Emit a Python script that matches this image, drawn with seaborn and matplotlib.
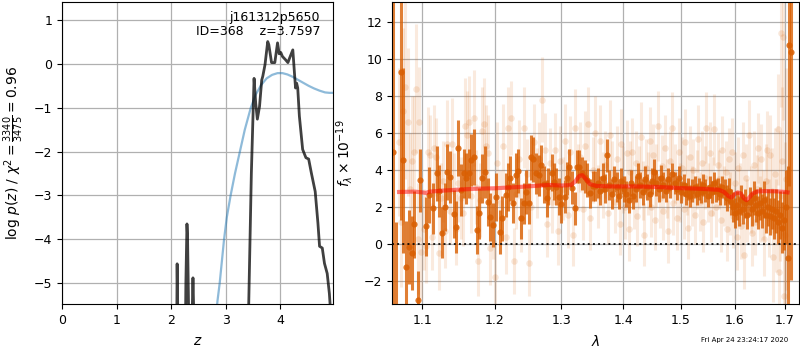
import numpy as np
import pandas as pd
import matplotlib
matplotlib.use("Agg")
import matplotlib.pyplot as plt
import matplotlib.ticker as mticker
import seaborn as sns

# ---------------- left panel: p(z) ----------------
pz_z = [2.08, 2.10, 2.11, 2.13, 2.15, 2.24, 2.27, 2.29, 2.30, 2.32, 2.35,
        2.38, 2.40, 2.42, 2.45, 3.40, 3.42, 3.47, 3.52, 3.55, 3.58, 3.62,
        3.66, 3.68, 3.72, 3.77, 3.79, 3.84, 3.90, 3.95, 3.98, 4.01, 4.04,
        4.07, 4.10, 4.14, 4.17, 4.23, 4.26, 4.28, 4.30, 4.32, 4.35, 4.41,
        4.47, 4.52, 4.57, 4.64, 4.69, 4.72, 4.77, 4.81, 4.86, 4.90, 4.93]
pz_logp = [-9.0, -6.5, -4.56, -6.5, -9.0, -9.0, -5.0, -3.65, -3.9, -5.6, -8.0,
           -6.0, -4.88, -6.0, -9.0, -9.0, -5.6, -2.5, -0.33, -0.9, -1.26, -0.97,
           -0.37, -0.28, -0.02, 0.51, 0.44, 0.03, 0.03, 0.48, 0.23, 0.26, 0.17,
           0.13, 0.09, 0.03, 0.13, 0.32, -0.21, -0.55, -0.44, -0.55, -1.19, -1.95,
           -2.14, -2.17, -2.49, -2.91, -3.63, -4.16, -4.20, -4.55, -4.78, -5.24, -5.8]

prior_z = [2.80, 2.85, 2.89, 2.93, 2.97, 3.02, 3.09, 3.17, 3.26, 3.35, 3.46,
           3.55, 3.65, 3.75, 3.85, 3.95, 4.04, 4.13, 4.22, 4.32, 4.42, 4.52,
           4.62, 4.72, 4.82, 4.90, 4.97]
prior_logp = [-6.0, -5.4, -5.0, -4.5, -4.0, -3.5, -3.0, -2.5, -2.0, -1.5, -1.0,
              -0.7, -0.48, -0.33, -0.25, -0.21, -0.21, -0.24, -0.29, -0.36, -0.43, -0.5,
              -0.56, -0.61, -0.65, -0.66, -0.66]

left_xticks = [0, 1, 2, 3, 4]
left_yticks = [-5, -4, -3, -2, -1, 0, 1]

# ---------------- right panel: spectrum ----------------
faint_wave = [
    1.070, 1.072, 1.075, 1.078, 1.081, 1.084, 1.087, 1.090, 1.092, 1.094,
    1.096, 1.099, 1.102, 1.105, 1.108, 1.111, 1.113, 1.116, 1.119, 1.122,
    1.125, 1.128, 1.131, 1.134, 1.137, 1.140, 1.143, 1.146, 1.149, 1.152,
    1.155, 1.158, 1.161, 1.164, 1.167, 1.170, 1.173, 1.176, 1.179, 1.182,
    1.185, 1.188, 1.191, 1.194, 1.197, 1.200, 1.204, 1.208, 1.212, 1.216,
    1.220, 1.224, 1.228, 1.231, 1.235, 1.239, 1.243, 1.247, 1.250, 1.254,
    1.258, 1.262, 1.266, 1.270, 1.274, 1.278, 1.282, 1.286, 1.290, 1.294,
    1.298, 1.302, 1.306, 1.310, 1.314, 1.318, 1.322, 1.326, 1.330, 1.334,
    1.338, 1.342, 1.346, 1.350, 1.354, 1.358, 1.362, 1.366, 1.370, 1.374,
    1.378, 1.382, 1.386, 1.390, 1.394, 1.397, 1.400, 1.403, 1.406, 1.409,
    1.412, 1.415, 1.418, 1.421, 1.424, 1.427, 1.430, 1.433, 1.436, 1.439,
    1.442, 1.445, 1.448, 1.451, 1.454, 1.457, 1.460, 1.463, 1.466, 1.469,
    1.472, 1.475, 1.478, 1.481, 1.484, 1.487, 1.490, 1.493, 1.496, 1.499,
    1.502, 1.505, 1.508, 1.511, 1.514, 1.517, 1.520, 1.523, 1.526, 1.529,
    1.532, 1.535, 1.538, 1.541, 1.544, 1.547, 1.550, 1.553, 1.556, 1.559,
    1.562, 1.565, 1.568, 1.571, 1.574, 1.577, 1.580, 1.583, 1.586, 1.589,
    1.592, 1.595, 1.598, 1.601, 1.604, 1.607, 1.610, 1.613, 1.616, 1.619,
    1.622, 1.625, 1.628, 1.631, 1.634, 1.637, 1.640, 1.643, 1.646, 1.649,
    1.652, 1.655, 1.658, 1.661, 1.664, 1.667, 1.670, 1.673, 1.676, 1.679,
    1.682, 1.685, 1.688, 1.690, 1.692, 1.694, 1.696, 1.698, 1.700, 1.702]
faint_flux = [
    5.5, 1.2, 7.2, 8.5, 6.6, 3.0, 4.5, 5.0, 8.4, 0.3,
    6.6, -0.4, 0.8, -0.1, 5.0, 4.8, 0.4, 5.2, 4.7, -0.5,
    2.5, 3.4, 0.7, 5.4, 1.8, 5.4, 2.9, 0.8, 3.3, 2.5,
    1.7, 6.4, 5.9, 6.6, 2.6, 6.8, 3.1, -0.9, 2.4, 6.1,
    6.5, 5.3, 4.9, -0.2, 1.1, -1.8, 4.4, 2.2, 5.3, 0.4,
    6.3, 6.8, -0.9, 2.7, 4.6, 1.4, 6.3, 3.8, -1.0, 2.0,
    5.5, 3.3, 4.6, 7.8, 5.1, 1.1, 4.4, 2.3, 5.1, 0.7,
    4.5, 3.0, 5.6, 1.6, 5.0, 0.5, 6.3, 3.6, 4.7, 1.9,
    5.3, 6.5, 1.4, 4.0, 6.0, 2.6, 5.6, 3.2, 4.3, 1.7,
    5.9, 3.8, 2.3, 4.6, 1.1, 5.4, 3.5, 2.0, 4.9, 0.8,
    3.9, 5.0, 2.4, 4.4, 1.5, 3.6, 5.8, 2.9, 0.5, 4.1,
    3.3, 5.6, 2.0, 4.8, 1.3, 3.7, 6.4, 2.5, 4.2, 1.8,
    5.2, 3.0, 0.7, 4.5, 6.3, 2.2, 3.8, 1.4, 5.0, 2.8,
    4.1, 1.9, 5.5, 3.2, 0.9, 4.7, 2.6, 4.0, 1.6, 3.5,
    5.7, 2.3, 4.4, 1.2, 3.6, 6.3, 2.8, 4.9, 1.7, 3.1,
    6.2, 2.0, 4.3, 3.5, 1.3, 5.1, 2.6, 3.9, 0.8, 4.6,
    2.2, 5.0, 1.5, 3.3, 0.4, 4.1, 2.7, 1.0, 4.8, -0.6,
    3.6, 1.8, 5.9, 2.4, 0.6, 4.3, 1.2, 3.0, 5.2, 1.9,
    4.6, 2.1, 0.3, 3.4, 5.1, 1.4, 4.8, 2.9, -0.7, 3.8,
    1.0, 6.2, -1.5, 2.6, 11.4, 4.5, 11.2, -2.8, 0.5, 3.5]
faint_err = [
    4.0, 3.5, 4.5, 5.0, 4.0, 3.0, 3.5, 3.0, 3.5, 3.0,
    3.0, 2.5, 2.2, 2.0, 2.4, 2.2, 1.8, 2.3, 2.1, 2.0,
    1.9, 2.2, 2.0, 2.4, 1.8, 2.5, 2.0, 1.9, 2.1, 2.2,
    1.8, 2.6, 2.4, 2.5, 2.0, 2.6, 2.0, 1.9, 2.0, 2.4,
    2.5, 2.2, 2.1, 2.0, 1.9, 2.0, 2.2, 1.8, 2.3, 2.0,
    2.2, 2.0, 1.8, 1.9, 2.1, 1.8, 2.2, 1.9, 1.8, 2.0,
    2.1, 1.9, 2.0, 2.3, 2.0, 1.8, 1.9, 1.7, 2.0, 1.8,
    1.9, 1.7, 2.0, 1.8, 1.9, 1.7, 2.1, 1.8, 1.9, 1.7,
    1.9, 2.0, 1.7, 1.8, 2.0, 1.7, 1.9, 1.8, 1.8, 1.7,
    1.9, 1.8, 1.7, 1.8, 1.7, 1.9, 1.8, 1.7, 1.8, 1.7,
    1.7, 1.8, 1.6, 1.7, 1.6, 1.7, 1.9, 1.6, 1.7, 1.6,
    1.7, 1.8, 1.6, 1.7, 1.6, 1.7, 1.9, 1.6, 1.7, 1.6,
    1.8, 1.6, 1.7, 1.6, 1.9, 1.7, 1.6, 1.7, 1.8, 1.6,
    1.7, 1.6, 1.8, 1.6, 1.7, 1.7, 1.6, 1.7, 1.6, 1.6,
    1.8, 1.6, 1.7, 1.6, 1.7, 1.9, 1.6, 1.7, 1.6, 1.6,
    1.9, 1.6, 1.7, 1.6, 1.7, 1.8, 1.6, 1.7, 1.7, 1.7,
    1.7, 1.8, 1.7, 1.7, 1.8, 1.7, 1.7, 1.8, 1.8, 1.8,
    1.8, 1.7, 1.9, 1.8, 1.8, 1.8, 1.8, 1.8, 1.9, 1.8,
    1.9, 1.9, 2.0, 2.0, 2.1, 2.1, 2.2, 2.3, 2.4, 2.5,
    2.5, 3.0, 3.0, 3.5, 4.0, 4.0, 4.5, 5.0, 5.0, 6.0]

dark_wave = [
    1.062, 1.066, 1.073, 1.075, 1.079, 1.083, 1.087, 1.090, 1.094, 1.097,
    1.105, 1.109, 1.114, 1.120, 1.123, 1.127, 1.131, 1.134, 1.138, 1.143,
    1.146, 1.149, 1.153, 1.156, 1.160, 1.163, 1.167, 1.171, 1.175, 1.178,
    1.182, 1.186, 1.190, 1.193, 1.197, 1.202, 1.208, 1.211, 1.216, 1.220,
    1.222, 1.227, 1.231, 1.234, 1.238, 1.243, 1.246, 1.250, 1.253, 1.257,
    1.261, 1.265, 1.269, 1.273, 1.277, 1.280, 1.285, 1.289, 1.292, 1.297,
    1.300, 1.305, 1.308, 1.312, 1.317, 1.321, 1.324, 1.328, 1.333, 1.337,
    1.340, 1.345, 1.350, 1.354, 1.358, 1.362, 1.366, 1.370, 1.373, 1.377,
    1.381, 1.385, 1.389, 1.393, 1.397, 1.401, 1.405, 1.409, 1.413, 1.417,
    1.421, 1.425, 1.429, 1.433, 1.437, 1.441, 1.445, 1.449, 1.453, 1.457,
    1.461, 1.465, 1.469, 1.473, 1.477, 1.481, 1.485, 1.489, 1.493, 1.497,
    1.501, 1.505, 1.509, 1.513, 1.517, 1.521, 1.525, 1.529, 1.533, 1.537,
    1.541, 1.545, 1.549, 1.553, 1.557, 1.561, 1.565, 1.569, 1.573, 1.577,
    1.581, 1.585, 1.589, 1.593, 1.597, 1.601, 1.605, 1.609, 1.613, 1.617,
    1.621, 1.625, 1.629, 1.633, 1.637, 1.641, 1.645, 1.649, 1.653, 1.657,
    1.661, 1.665, 1.669, 1.673, 1.677, 1.681, 1.685, 1.689, 1.693, 1.697,
    1.701, 1.705, 1.709, 1.712]
dark_flux = [
    5.0, -3.5, 9.31, 4.54, -1.23, -0.15, -0.50, 1.08, -3.03, 3.46,
    0.97, 2.65, 1.93, 3.82, 2.88, 0.63, 2.02, 3.91, 3.64, 1.62,
    0.94, 5.19, 2.92, 3.82, 3.55, 3.82, 4.54, 4.72, 0.76, 1.66,
    3.55, 3.91, 2.29, 1.48, 1.03, 2.53, 0.67, 1.39, 2.65, 3.10,
    3.55, 2.23, 3.73, 3.96, 1.39, 2.20, 2.83, 2.20, 4.69, 4.58,
    3.82, 3.73, 4.27, 3.24, 2.47, 3.10, 3.85, 3.37, 3.10, 2.56,
    2.16, 2.56, 3.55, 4.15, 3.06, 1.93, 4.18, 4.18, 3.82, 3.64,
    3.46, 2.74, 3.14, 3.14, 3.30, 2.90, 3.60, 3.00, 4.81, 3.20,
    2.70, 3.50, 3.10, 2.60, 3.40, 3.00, 2.70, 2.40, 3.30, 2.60,
    3.00, 3.70, 3.20, 2.80, 3.50, 3.10, 2.70, 3.40, 3.90, 3.30,
    3.00, 3.60, 3.20, 2.90, 3.50, 3.10, 3.80, 3.30, 3.00, 3.60,
    2.80, 3.20, 2.70, 3.00, 2.60, 2.90, 3.10, 2.70, 3.00, 2.80,
    3.20, 2.90, 2.60, 3.10, 2.80, 3.30, 2.90, 3.00, 2.70, 3.10,
    2.80, 2.50, 2.90, 2.30, 2.00, 1.70, 2.10, 1.80, 2.40, 1.90,
    2.20, 1.60, 2.30, 1.90, 2.50, 2.10, 1.70, 2.20, 1.80, 2.40,
    1.60, 2.00, 1.50, 1.90, 1.40, 1.80, 1.20, 1.60, 0.90, 1.30,
    2.00, -0.77, 10.76, 10.36]
dark_err = [
    15.0, 4.7, 8.0, 5.0, 2.5, 2.0, 2.0, 1.8, 1.6, 1.7,
    1.6, 1.5, 1.4, 1.5, 1.4, 1.4, 1.3, 1.5, 1.4, 1.3,
    1.4, 1.5, 1.4, 1.3, 1.4, 1.3, 1.4, 1.5, 1.3, 1.4,
    1.3, 1.4, 1.3, 1.3, 1.2, 1.3, 1.2, 1.2, 1.2, 1.3,
    1.2, 1.1, 1.2, 1.2, 1.1, 1.1, 1.2, 1.1, 1.2, 1.2,
    1.1, 1.1, 1.1, 1.0, 1.0, 1.0, 1.0, 1.0, 1.0, 1.0,
    1.0, 0.9, 0.9, 1.0, 0.9, 0.9, 0.9, 0.9, 0.9, 0.9,
    0.9, 0.8, 0.8, 0.8, 0.8, 0.8, 0.8, 0.8, 0.9, 0.8,
    0.8, 0.7, 0.8, 0.7, 0.7, 0.7, 0.7, 0.7, 0.7, 0.7,
    0.7, 0.7, 0.7, 0.7, 0.7, 0.7, 0.7, 0.7, 0.7, 0.7,
    0.7, 0.7, 0.7, 0.6, 0.6, 0.6, 0.6, 0.6, 0.6, 0.6,
    0.6, 0.6, 0.6, 0.6, 0.6, 0.6, 0.6, 0.6, 0.6, 0.6,
    0.6, 0.6, 0.6, 0.6, 0.6, 0.6, 0.6, 0.6, 0.6, 0.6,
    0.7, 0.7, 0.7, 0.7, 0.8, 0.8, 0.8, 0.8, 0.8, 0.8,
    0.8, 0.8, 0.8, 0.9, 0.9, 0.9, 0.9, 0.9, 0.9, 1.0,
    1.0, 1.0, 1.0, 1.1, 1.1, 1.2, 1.2, 1.3, 1.4, 1.6,
    2.0, 5.0, 7.6, 12.3]

model_wave = [1.070, 1.080, 1.090, 1.100, 1.105, 1.110, 1.130, 1.150, 1.170,
              1.200, 1.230, 1.260, 1.280, 1.300, 1.315, 1.322, 1.328, 1.333,
              1.338, 1.345, 1.355, 1.380, 1.420, 1.460, 1.500, 1.540, 1.570,
              1.580, 1.588, 1.594, 1.600, 1.606, 1.612, 1.618, 1.623, 1.628,
              1.635, 1.645, 1.660, 1.680, 1.700, 1.705]
model_flux = [2.82, 2.83, 2.84, 2.80, 2.77, 2.84, 2.90, 2.95, 2.99,
              3.02, 3.08, 3.15, 3.20, 3.17, 3.19, 3.40, 3.68, 3.73,
              3.55, 3.25, 3.15, 3.12, 3.12, 3.09, 3.03, 2.99, 2.94,
              2.82, 2.60, 2.52, 2.70, 2.80, 2.74, 2.48, 2.38, 2.50,
              2.74, 2.85, 2.87, 2.86, 2.82, 2.80]

right_xticks = [1.1, 1.2, 1.3, 1.4, 1.5, 1.6, 1.7]
right_xticklabels = ["1.1", "1.2", "1.3", "1.4", "1.5", "1.6", "1.7"]
right_yticks = [-2, 0, 2, 4, 6, 8, 10, 12]

ORANGE = "#d95f02"

plt.rcParams["font.size"] = 9
fig = plt.figure(figsize=(8, 3.5), dpi=100)
ax1 = fig.add_axes([0.0775, 0.131, 0.339, 0.863])
ax2 = fig.add_axes([0.49, 0.131, 0.509, 0.863])

# ---- left
sns.lineplot(x=prior_z, y=prior_logp, ax=ax1, color="tab:blue", alpha=0.5,
             lw=1.6, sort=False, estimator=None)
sns.lineplot(x=pz_z, y=pz_logp, ax=ax1, color="k", alpha=0.75,
             lw=2.0, sort=False, estimator=None)
ax1.set_xlim(0, 4.97)
ax1.set_ylim(-5.48, 1.41)
ax1.set_xticks(left_xticks)
ax1.set_yticks(left_yticks)
ax1.grid(True, color="#b0b0b0", lw=0.9)
ax1.set_axisbelow(True)
ax1.set_xlabel("$z$", fontsize=10)
ax1.set_ylabel(r"$\log\,p(z)$ / $\chi^2=\frac{3340}{3475}=0.96$", fontsize=10)
ax1.yaxis.set_label_coords(-0.132, 0.5)
ax1.xaxis.set_label_coords(0.5, -0.098)
ax1.text(0.952, 0.97, "j161312p5650\nID=368    z=3.7597", transform=ax1.transAxes,
         ha="right", va="top", fontsize=9, linespacing=1.1)
ax1.tick_params(labelsize=9)

# ---- right
faint_df = pd.DataFrame({"wave": faint_wave, "flux": faint_flux, "err": faint_err})
dark_df = pd.DataFrame({"wave": dark_wave, "flux": dark_flux, "err": dark_err})
model_df = pd.DataFrame({"wave": model_wave, "flux": model_flux})

ax2.set_xscale("log")
ax2.errorbar(faint_df["wave"], faint_df["flux"], yerr=faint_df["err"], fmt="none",
             ecolor=ORANGE, alpha=0.13, elinewidth=2.2)
sns.scatterplot(data=faint_df, x="wave", y="flux", ax=ax2, color=ORANGE, alpha=0.15,
                s=22, linewidth=0)
ax2.errorbar(dark_df["wave"], dark_df["flux"], yerr=dark_df["err"], fmt="none",
             ecolor=ORANGE, alpha=0.8, elinewidth=2.2)
sns.scatterplot(data=dark_df, x="wave", y="flux", ax=ax2, color=ORANGE, alpha=0.85,
                s=20, linewidth=0)
sns.lineplot(data=model_df, x="wave", y="flux", ax=ax2, color="red", alpha=0.5,
             lw=3, sort=False, estimator=None)
ax2.axhline(0, color="k", ls=":", lw=1.4, alpha=0.85)

ax2.set_xlim(1.061, 1.729)
ax2.set_ylim(-3.24, 13.08)
ax2.xaxis.set_major_locator(mticker.FixedLocator(right_xticks))
ax2.xaxis.set_major_formatter(mticker.FixedFormatter(right_xticklabels))
ax2.xaxis.set_minor_locator(mticker.NullLocator())
ax2.set_yticks(right_yticks)
ax2.grid(True, color="#b0b0b0", lw=0.9)
ax2.set_axisbelow(True)
ax2.set_xlabel(r"$\lambda$", fontsize=10)
ax2.set_ylabel(r"$f_\lambda\times10^{-19}$", fontsize=10)
ax2.yaxis.set_label_coords(-0.092, 0.5)
ax2.xaxis.set_label_coords(0.5, -0.098)
ax2.tick_params(labelsize=9)

fig.text(0.985, 0.029, "Fri Apr 24 23:24:17 2020", ha="right", va="center", fontsize=5)

fig.savefig("out.png", dpi=100)
